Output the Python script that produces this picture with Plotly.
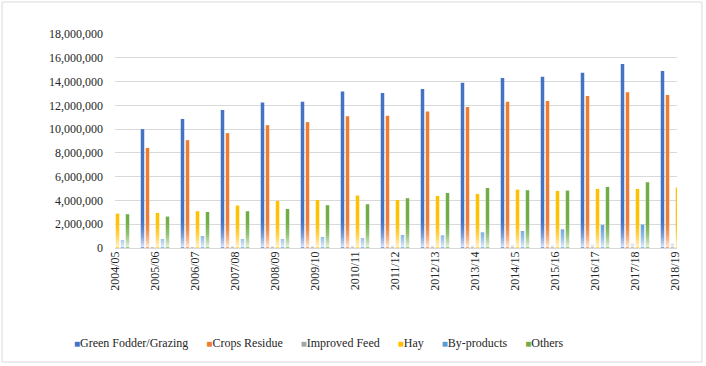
import base64, struct, zlib
import plotly.graph_objects as go

categories = ["2004/05", "2005/06", "2006/07", "2007/08", "2008/09", "2009/10", "2010/11",
              "2011/12", "2012/13", "2013/14", "2014/15", "2015/16", "2016/17", "2017/18", "2018/19"]
green_fodder = [9300000, 10000000, 10840000, 11600000, 12240000, 12300000, 13170000, 13030000,
                13370000, 13900000, 14290000, 14400000, 14740000, 15470000, 14880000]
crops_residue = [7900000, 8420000, 9070000, 9660000, 10330000, 10590000, 11090000, 11120000,
                 11480000, 11850000, 12300000, 12360000, 12780000, 13110000, 12860000]
improved_feed = [50000, 50000, 80000, 100000, 100000, 150000, 190000, 200000,
                 190000, 200000, 250000, 220000, 290000, 370000, 370000]
hay = [2890000, 2950000, 3090000, 3570000, 3960000, 4040000, 4410000, 4040000,
       4380000, 4550000, 4910000, 4800000, 4970000, 4970000, 5080000]
by_products = [670000, 760000, 1010000, 760000, 760000, 930000, 840000, 1100000,
               1070000, 1320000, 1430000, 1570000, 1940000, 1970000, 2000000]
others = [2840000, 2640000, 3030000, 3090000, 3280000, 3600000, 3680000, 4190000,
          4630000, 5050000, 4860000, 4830000, 5140000, 5530000, 5600000]

series = [
    ("Green Fodder/Grazing", green_fodder, "#4472C4"),
    ("Crops Residue", crops_residue, "#ED7D31"),
    ("Improved Feed", improved_feed, "#A5A5A5"),
    ("Hay", hay, "#FFC000"),
    ("By-products", by_products, "#5B9BD5"),
    ("Others", others, "#70AD47"),
]

FONT = "Liberation Serif, Times New Roman, serif"
W, H = 706, 366
ML, MR, MT, MB = 115, 29, 34, 118
PW, PH = W - ML - MR, H - MT - MB

fig = go.Figure()
for name, vals, col in series:
    fig.add_trace(go.Bar(x=categories, y=vals, name=name, marker=dict(color=col, line=dict(width=0)),
                         showlegend=False))


def gradient_png(n):
    rows = b""
    for i in range(n):
        t = i / (n - 1)
        a = int(255 * 0.85 * (t ** 2.2))
        rows += b"\x00" + bytes([255, 255, 255, a])
    def chunk(tag, data):
        c = struct.pack(">I", len(data)) + tag + data
        return c + struct.pack(">I", zlib.crc32(tag + data) & 0xffffffff)
    png = b"\x89PNG\r\n\x1a\n" + chunk(b"IHDR", struct.pack(">IIBBBBB", 1, n, 8, 6, 0, 0, 0))
    png += chunk(b"IDAT", zlib.compress(rows)) + chunk(b"IEND", b"")
    return "data:image/png;base64," + base64.b64encode(png).decode()

# soft white fade over the lower part of the bars (gradient look)
fig.add_layout_image(dict(source=gradient_png(64), xref="paper", yref="y", x=0, y=2800000,
                          sizex=1, sizey=2750000, sizing="stretch", xanchor="left", yanchor="top",
                          layer="above", opacity=1))

# legend as a text line
legend_parts = []
for name, vals, col in series:
    legend_parts.append(f'<span style="color:{col};font-size:10px">&#9632;</span>{name}')
legend_text = "&nbsp;&nbsp;&nbsp;&nbsp;&nbsp;&nbsp;".join(legend_parts)
fig.add_annotation(text=legend_text, xref="paper", yref="paper",
                   x=(318.5 - ML) / PW, y=-(343 - (MT + PH)) / PH, xanchor="center", yanchor="middle",
                   showarrow=False, font=dict(family=FONT, size=12, color="#262626"))

# outer chart border
fig.add_shape(type="rect", xref="paper", yref="paper",
              x0=(2 - ML) / PW, x1=(702 - ML) / PW,
              y0=-(362 - MT - PH) / PH, y1=(MT + PH - 2) / PH,
              line=dict(color="#d9d9d9", width=1), fillcolor="rgba(0,0,0,0)")

fig.update_layout(
    width=W, height=H, margin=dict(l=ML, r=MR, t=MT, b=MB),
    paper_bgcolor="white", plot_bgcolor="white",
    barmode="group", bargap=0.25, bargroupgap=0.3,
    font=dict(family=FONT, size=12, color="#262626"),
    showlegend=False,
)
fig.update_xaxes(type="category", range=[0, 14.05], tickangle=-90, showgrid=False,
                 showline=False, ticks="", tickfont=dict(family=FONT, size=12, color="#262626"))
fig.update_yaxes(range=[0, 18000000], dtick=2000000, tickformat=",", gridcolor="#d9d9d9",
                 gridwidth=1, zeroline=True, zerolinecolor="#d9d9d9", zerolinewidth=1,
                 showline=False, ticks="", ticklabelstandoff=11,
                 tickfont=dict(family=FONT, size=12, color="#262626"))

fig.write_html("out.html")
